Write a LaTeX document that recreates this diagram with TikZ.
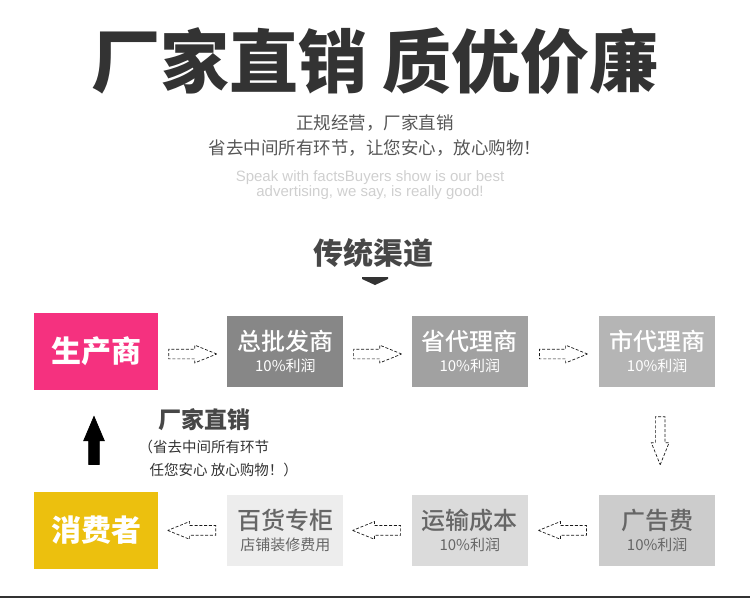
\documentclass[tikz,border=0pt]{standalone}
\usepackage{fontspec}
\setmainfont{Noto Sans CJK SC}
\newfontfamily\latin{Liberation Sans}
\newfontfamily\medium{Noto Sans CJK SC Medium}
\usetikzlibrary{positioning,shapes.arrows,calc}
\definecolor{rosebox}{HTML}{F5317F}
\definecolor{goldbox}{HTML}{ECC00E}
\definecolor{inkdark}{HTML}{333333}
\definecolor{inkmid}{HTML}{555555}
\definecolor{inkpale}{HTML}{CFCFCF}
\tikzset{
  block/.style={rectangle, minimum width=116pt, minimum height=71pt,
    inner sep=0pt, align=center, text=white, font=\medium\fontsize{24}{24}\selectfont},
  endbox/.style={block, minimum width=124pt, minimum height=77pt,
    font=\fontsize{30}{30}\selectfont\bfseries},
  flow/.style={single arrow, draw=black!90, line width=0.7pt,
    dash pattern=on 3pt off 1.8pt, inner sep=4.5pt,
    single arrow head extend=4pt, single arrow tip angle=44,
    minimum height=48pt},
}
\newcommand{\profit}[1]{\\[-3pt]{\normalfont\fontsize{15}{16}\selectfont #1}}

\begin{document}
\begin{tikzpicture}[x=1pt, y=-1pt]
  \useasboundingbox (0,0) rectangle (750,598);
  \node[font=\fontsize{69}{69}\selectfont\bfseries, text=inkdark] (title) at (375,61) {厂家直销 质优价廉};
  \node[font=\fontsize{17.5}{25}\selectfont, text=inkmid, align=center] (slogan) at (375,135.5)
    {正规经营，厂家直销\\省去中间所有环节，让您安心，放心购物！};
  \node[font=\latin\fontsize{15}{15}\selectfont, text=inkpale, align=center] (motto) at (370,185)
    {Speak with factsBuyers show is our best\\advertising, we say, is really good!};
  \node[font=\fontsize{30}{30}\selectfont\bfseries, text=black!72] (channel) at (373.5,253) {传统渠道};
  \fill[inkdark] (362,277) -- (388,277) -- (388,279) -- (375,285) -- (362,279) -- cycle;

  \node[endbox, fill=rosebox] (maker) at (96,351) {生产商};
  \node[block, fill=black!47, right=69pt of maker] (whole) {总批发商\profit{10\%利润}};
  \node[block, fill=black!37, right=68pt of whole] (prov) {省代理商\profit{10\%利润}};
  \node[block, fill=black!29, right=71pt of prov] (city) {市代理商\profit{10\%利润}};

  \node[endbox, fill=goldbox, below=102pt of maker] (buyer) {消费者};
  \node[block, fill=black!7, text=black!60, right=69pt of buyer] (store) {百货专柜\profit{店铺装修费用}};
  \node[block, fill=black!14, text=black!60, right=68pt of store] (ship) {运输成本\profit{10\%利润}};
  \node[block, fill=black!20, text=black!60, right=71pt of ship] (ads) {广告费\profit{10\%利润}};

  \node[flow] (f1) at ($(maker.east)!0.5!(whole.west)+(-6,3)$) {};
  \node[flow] (f2) at ($(whole.east)!0.5!(prov.west)+(-6,3)$) {};
  \node[flow] (f3) at ($(prov.east)!0.5!(city.west)+(-6,3)$) {};
  \node[flow, shape border rotate=270] (f4) at ($(city.south)!0.5!(ads.north)+(3,-6)$) {};
  \node[flow, shape border rotate=180] (f5) at ($(ads.west)!0.5!(ship.east)+(5,0)$) {};
  \node[flow, shape border rotate=180] (f6) at ($(ship.west)!0.5!(store.east)+(5,0)$) {};
  \node[flow, shape border rotate=180] (f7) at ($(store.west)!0.5!(buyer.east)+(5,0)$) {};
  \node[flow, solid, fill=black, draw=black, inner sep=5pt, single arrow head extend=5pt,
    single arrow tip angle=46, shape border rotate=90] (back)
    at ($(buyer.north)!0.5!(maker.south)+(-2,6)$) {};

  \node[font=\fontsize{23}{23}\selectfont\bfseries, text=inkdark!90] (direct) at (204,420) {厂家直销};
  \node[font=\fontsize{14.5}{15}\selectfont, text=inkdark, anchor=west] (skip) at (135,447) {（省去中间所有环节};
  \node[font=\fontsize{14.5}{15}\selectfont, text=inkdark, anchor=west] (trust) at (146,470) {任您安心 放心购物！）};

  \fill[inkdark] (0,596) rectangle (750,598);
\end{tikzpicture}
\end{document}
